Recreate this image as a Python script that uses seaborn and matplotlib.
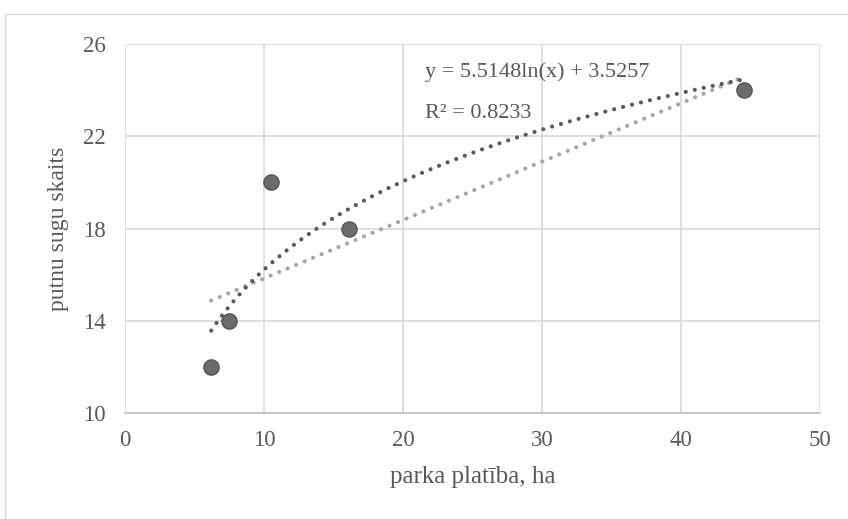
import matplotlib
matplotlib.use("Agg")
import matplotlib.pyplot as plt
import numpy as np
import pandas as pd
import seaborn as sns
from matplotlib.patches import Rectangle

# values
park_area_ha = [6.2, 7.5, 10.5, 16.1, 44.5]
bird_species = [12, 14, 20, 18, 24]
x_ticks = [0, 10, 20, 30, 40, 50]
y_ticks = [10, 14, 18, 22, 26]
equation_text = "y = 5.5148ln(x) + 3.5257"
r2_text = "R² = 0.8233"

TEXT = "#595959"
GRID = "#d9d9d9"

df = pd.DataFrame({"area": park_area_ha, "species": bird_species})

sns.set_style("white")
plt.rcParams["font.family"] = ["Liberation Serif", "DejaVu Serif"]

fig = plt.figure(figsize=(8.48, 5.19), dpi=100)
ax = fig.add_axes([0.1474, 0.2042, 0.8196, 0.711])

# outer chart frame (cut off at right and bottom like the source)
fig.patches.append(Rectangle((5 / 848, -0.1), 1.2, 1 - 14 / 519 + 0.1,
                             transform=fig.transFigure, fill=False,
                             edgecolor=GRID, linewidth=1.0))

dotted = (0, (0.01, 2.2))
# linear trendline
sns.regplot(data=df, x="area", y="species", ax=ax, scatter=False, ci=None,
            truncate=True,
            line_kws=dict(color="#a6a6a6", linewidth=3.0, linestyle=dotted,
                          dash_capstyle="round", zorder=2))
# logarithmic trendline
sns.regplot(data=df, x="area", y="species", ax=ax, scatter=False, ci=None,
            logx=True, truncate=True,
            line_kws=dict(color="#595959", linewidth=3.0, linestyle=dotted,
                          dash_capstyle="round", zorder=3))
sns.scatterplot(data=df, x="area", y="species", ax=ax, s=120,
                color="#6b6b6b", edgecolor="#555555", linewidth=1.0, zorder=4)

ax.set_xlim(0, 50)
ax.set_ylim(10, 26)
ax.set_xticks(x_ticks)
ax.set_yticks(y_ticks)
ax.grid(True, color=GRID, linewidth=1.2, zorder=0)
ax.set_axisbelow(True)
for side in ["top", "right", "left"]:
    ax.spines[side].set_visible(False)
ax.spines["bottom"].set_color("#bfbfbf")
ax.spines["bottom"].set_linewidth(1.2)
ax.tick_params(length=0, labelsize=16.5, labelcolor=TEXT)
ax.tick_params(axis="x", pad=12)
ax.tick_params(axis="y", pad=14)

ax.set_xlabel("parka platība, ha", fontsize=18, color=TEXT, labelpad=11)
ax.set_ylabel("putnu sugu skaits", fontsize=17, color=TEXT, labelpad=10)

ax.text(21.6, 24.8, equation_text, fontsize=16, color=TEXT, va="center")
ax.text(21.6, 23.0, r2_text, fontsize=16, color=TEXT, va="center")

fig.savefig("out.png", dpi=100)
